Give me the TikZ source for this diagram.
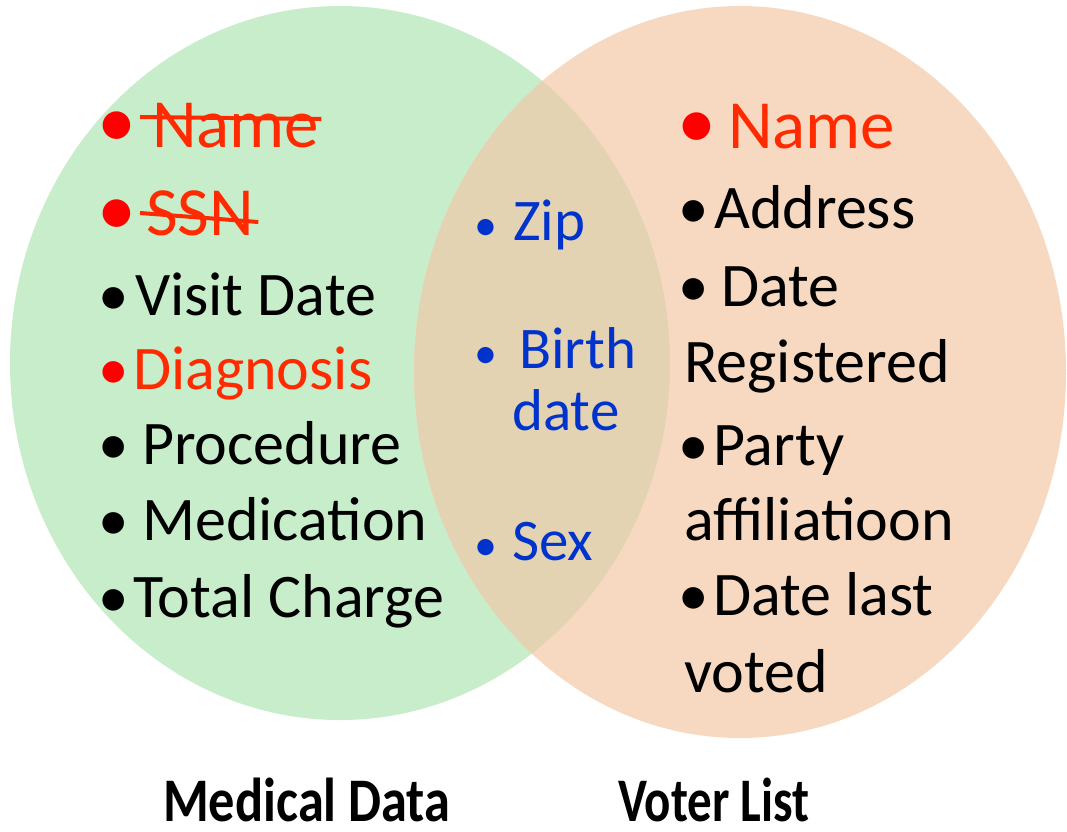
\documentclass[tikz,border=0pt]{standalone}
\usepackage{fontspec}
\setmainfont{Carlito}
\definecolor{gfill}{HTML}{C8EDCB}
\definecolor{ofill}{HTML}{F7D9C1}
\definecolor{mfill}{HTML}{E4D3B3}
\definecolor{txtred}{HTML}{FF2A00}
\definecolor{bred}{HTML}{FF0000}
\definecolor{tblue}{HTML}{0033CC}
\begin{document}
\begin{tikzpicture}[x=1pt,y=-1pt,
  item/.style={anchor=base west,inner sep=0pt,font=\fontsize{62}{62}\selectfont},
  big/.style={font=\fontsize{69}{69}\selectfont},
  mid/.style={anchor=base west,inner sep=0pt,font=\fontsize{59}{59}\selectfont,text=tblue},
  dot/.style={anchor=base,inner sep=0pt,font=\fontsize{61}{61}\selectfont},
  bigdot/.style={anchor=base,inner sep=0pt,font=\fontsize{78}{78}\selectfont,text=bred},
  smalldot/.style={anchor=base,inner sep=0pt,font=\fontsize{46}{46}\selectfont,text=tblue},
  strike/.style={draw=txtred,line width=4pt},
  title/.style={anchor=base west,inner sep=0pt,font=\bfseries\fontsize{62}{62}\selectfont}]
\useasboundingbox (0,0) rectangle (1067,831);
\fill[gfill] (340,363) ellipse [x radius=330pt, y radius=357pt];
\fill[ofill] (740,372) ellipse [x radius=326pt, y radius=366pt];
\begin{scope}
  \clip (340,363) ellipse [x radius=330pt, y radius=357pt];
  \fill[mfill] (740,372) ellipse [x radius=326pt, y radius=366pt];
\end{scope}
% left column
\node[bigdot] (b1) at (117,147) {•};
\node[item,big,text=txtred] (lname) at (152,147) {Name};
\draw[strike] ([xshift=-12pt,yshift=30pt]lname.base west) -- ([xshift=2pt,yshift=28pt]lname.base east);
\node[bigdot] (b2) at (117,235) {•};
\node[item,big,text=txtred] (ssn) at (146,235) {SSN};
\draw[strike] ([xshift=-6pt,yshift=22pt]ssn.base west) -- ([xshift=4pt,yshift=13pt]ssn.base east);
\node[dot] (b3) at (114,315) {•};
\node[item] (visit) at (135,315) {Visit Date};
\node[dot,text=bred] (b4) at (114,389) {•};
\node[item,text=txtred] (diag) at (133,389) {Diagnosis};
\node[dot] (b5) at (114,464) {•};
\node[item] (proc) at (142,464) {Procedure};
\node[dot] (b6) at (114,540) {•};
\node[item] (medi) at (142,540) {Medication};
\node[dot] (b7) at (114,617) {•};
\node[item] (total) at (133,617) {Total Charge};
% middle
\node[smalldot] (m1) at (486,240) {•};
\node[mid] (zip) at (513,240) {Zip};
\node[smalldot] (m2) at (486,368) {•};
\node[mid] (birth) at (519,368) {Birth};
\node[mid] (bdate) at (512,430) {date};
\node[smalldot] (m3) at (486,560) {•};
\node[mid] (sex) at (512,560) {Sex};
% right column
\node[bigdot] (r1) at (697,148) {•};
\node[item,big,text=txtred] (rname) at (728,148) {Name};
\node[dot] (r2) at (694,228) {•};
\node[item] (addr) at (714,228) {Address};
\node[dot] (r3) at (694,306) {•};
\node[item] (rdate) at (721,306) {Date};
\node[item] (reg) at (684,382) {Registered};
\node[dot] (r4) at (694,465) {•};
\node[item] (party) at (713,465) {Party};
\node[item] (affil) at (684,540) {affiliatioon};
\node[dot] (r5) at (694,615) {•};
\node[item] (dlast) at (713,615) {Date last};
\node[item] (voted) at (684,692) {voted};
% titles
\node[title] (med) at (163,821) {\scalebox{0.845}[1]{Medical Data}};
\node[title] (vot) at (618,821) {\scalebox{0.79}[1]{Voter List}};
\end{tikzpicture}
\end{document}
